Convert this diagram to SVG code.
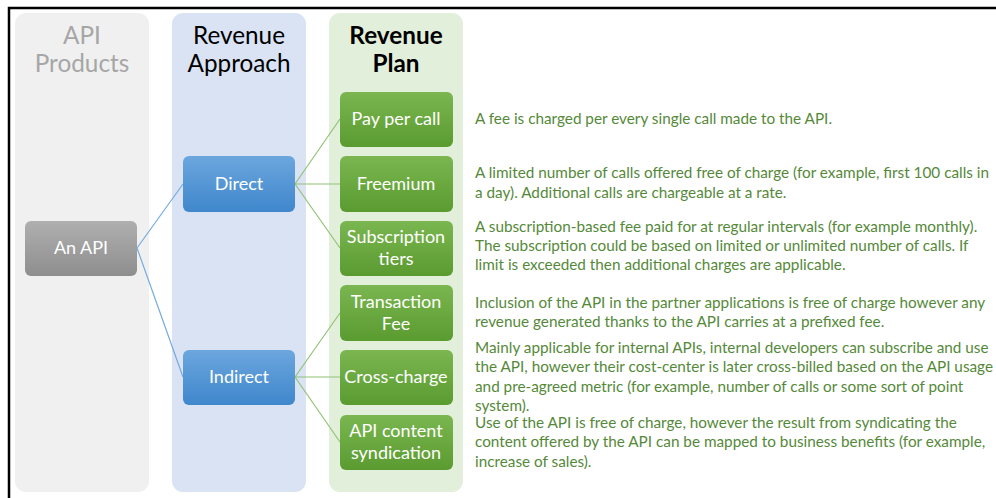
<svg xmlns="http://www.w3.org/2000/svg" width="996" height="498" viewBox="0 0 996 498">
<defs>
<linearGradient id="gGray" x1="0" y1="0" x2="0" y2="1"><stop offset="0" stop-color="#afafaf"/><stop offset="1" stop-color="#8e8e8e"/></linearGradient>
<linearGradient id="gBlue" x1="0" y1="0" x2="0" y2="1"><stop offset="0" stop-color="#6ca6de"/><stop offset="1" stop-color="#3f87cc"/></linearGradient>
<linearGradient id="gGreen" x1="0" y1="0" x2="0" y2="1"><stop offset="0" stop-color="#7bb650"/><stop offset="1" stop-color="#5a9b30"/></linearGradient>
<style>
.col{stroke:none}
.hdr{font-family:Lato,"Liberation Sans",sans-serif;font-size:24.3px;text-anchor:middle}
.nt{font-family:Lato,"Liberation Sans",sans-serif;font-size:18px;fill:#ffffff;text-anchor:middle}
.desc{font-family:Lato,"Liberation Sans",sans-serif;font-size:15.3px;fill:#55893a}
.cb{stroke:#75abdf;stroke-width:1.2;fill:none}
.cg{stroke:#92c277;stroke-width:1.2;fill:none}
</style>
</defs>
<rect width="996" height="498" fill="#ffffff"/>
<path d="M9 498 V8 H996" fill="none" stroke="#000" stroke-width="2.5"/>
<g id="columns">
<rect class="col" x="15" y="13" width="134" height="479" rx="11" fill="#f0f0f0"/>
<rect class="col" x="172" y="13" width="134" height="479" rx="11" fill="#dae3f3"/>
<rect class="col" x="329" y="13" width="134" height="479" rx="11" fill="#e2efda"/>
<text class="hdr" x="82" y="44" fill="#a6a6a6">API</text>
<text class="hdr" x="82" y="72" fill="#a6a6a6">Products</text>
<text class="hdr" x="239" y="44" fill="#000">Revenue</text>
<text class="hdr" x="239" y="72" fill="#000">Approach</text>
<text class="hdr" x="396" y="44" fill="#000" font-weight="bold">Revenue</text>
<text class="hdr" x="396" y="72" fill="#000" font-weight="bold">Plan</text>
</g>
<g id="connectors">
<path class="cb" d="M137 248 L183 184 M137 248 L183 377"/>
<path class="cg" d="M295 184 L340 119 M295 184 L340 184 M295 184 L340 248"/>
<path class="cg" d="M295 377 L340 313 M295 377 L340 377 M295 377 L340 442"/>
</g>
<g id="n-api"><rect x="25" y="221" width="112" height="55" rx="6" fill="url(#gGray)"/><text class="nt" x="81" y="254">An API</text></g>
<g id="n-direct"><rect x="183" y="156" width="112" height="56" rx="6" fill="url(#gBlue)"/><text class="nt" x="239" y="190">Direct</text></g>
<g id="n-indirect"><rect x="183" y="350" width="112" height="55" rx="6" fill="url(#gBlue)"/><text class="nt" x="239" y="383">Indirect</text></g>
<g id="n-paypercall"><rect x="340" y="92" width="113" height="55" rx="6" fill="url(#gGreen)"/><text class="nt" x="396" y="125">Pay per call</text></g>
<g id="n-freemium"><rect x="340" y="156" width="113" height="56" rx="6" fill="url(#gGreen)"/><text class="nt" x="396" y="190">Freemium</text></g>
<g id="n-subscription"><rect x="340" y="221" width="113" height="55" rx="6" fill="url(#gGreen)"/><text class="nt" x="396" y="243">Subscription</text><text class="nt" x="396" y="265">tiers</text></g>
<g id="n-transaction"><rect x="340" y="285" width="113" height="56" rx="6" fill="url(#gGreen)"/><text class="nt" x="396" y="308">Transaction</text><text class="nt" x="396" y="330">Fee</text></g>
<g id="n-crosscharge"><rect x="340" y="350" width="113" height="55" rx="6" fill="url(#gGreen)"/><text class="nt" x="396" y="383">Cross-charge</text></g>
<g id="n-syndication"><rect x="340" y="415" width="113" height="55" rx="6" fill="url(#gGreen)"/><text class="nt" x="396" y="437">API content</text><text class="nt" x="396" y="459">syndication</text></g>
<g id="descriptions">
<text class="desc" x="475" y="124">A fee is charged per every single call made to the API.</text>
<text class="desc" x="475" y="178">A limited number of calls offered free of charge (for example, first 100 calls in</text>
<text class="desc" x="475" y="198">a day). Additional calls are chargeable at a rate.</text>
<text class="desc" x="475" y="232">A subscription-based fee paid for at regular intervals (for example monthly).</text>
<text class="desc" x="475" y="251">The subscription could be based on limited or unlimited number of calls. If</text>
<text class="desc" x="475" y="270">limit is exceeded then additional charges are applicable.</text>
<text class="desc" x="475" y="308">Inclusion of the API in the partner applications is free of charge however any</text>
<text class="desc" x="475" y="327">revenue generated thanks to the API carries at a prefixed fee.</text>
<text class="desc" x="475" y="353">Mainly applicable for internal APIs, internal developers can subscribe and use</text>
<text class="desc" x="475" y="372">the API, however their cost-center is later cross-billed based on the API usage</text>
<text class="desc" x="475" y="392">and pre-agreed metric (for example, number of calls or some sort of point</text>
<text class="desc" x="475" y="411">system).</text>
<text class="desc" x="475" y="428">Use of the API is free of charge, however the result from syndicating the</text>
<text class="desc" x="475" y="447">content offered by the API can be mapped to business benefits (for example,</text>
<text class="desc" x="475" y="467">increase of sales).</text>
</g>
</svg>
